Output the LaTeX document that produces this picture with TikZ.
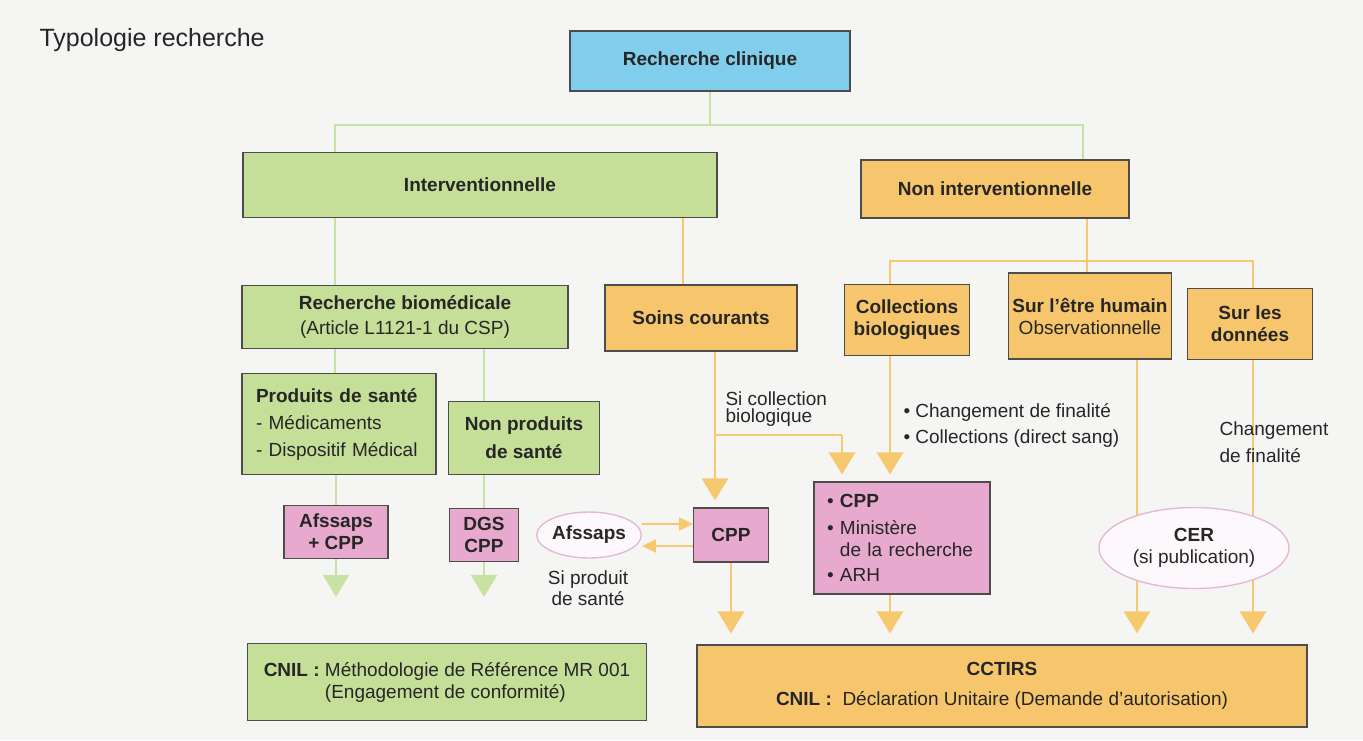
\documentclass[tikz,border=0pt]{standalone}
\usepackage{fontspec}
\setmainfont{Liberation Sans}
\usetikzlibrary{arrows.meta,shapes.geometric,backgrounds}

\definecolor{fond}{RGB}{245,245,244}
\definecolor{bleu}{RGB}{128,206,236}
\definecolor{vert}{RGB}{197,223,152}
\definecolor{vertligne}{RGB}{200,226,163}
\definecolor{orangeclair}{RGB}{247,198,108}
\definecolor{orangeligne}{RGB}{246,201,112}
\definecolor{rose}{RGB}{231,169,206}
\definecolor{roseligne}{RGB}{226,186,214}

\begin{document}
\begin{tikzpicture}[x=1pt, y=-1pt, >={Triangle[width=26pt,length=22pt]},
    every node/.style={font=\fontsize{19}{22}\selectfont, text=black!85},
    boite/.style={draw=black!70, line width=1.1pt, inner sep=4pt, align=center},
    boitebleue/.style={boite, fill=bleu},
    boiteverte/.style={boite, fill=vert},
    boiteorange/.style={boite, fill=orangeclair},
    boiterose/.style={boite, fill=rose},
    bulle/.style={ellipse, draw=roseligne, line width=1.4pt, fill=white!92!rose, inner sep=0pt, align=center},
    lienvert/.style={draw=vertligne, line width=2.2pt},
    lienorange/.style={draw=orangeligne, line width=2.8pt},
    petite/.style={-{Triangle[width=13pt,length=14pt]}, line width=2pt}]
  \useasboundingbox (0,0) rectangle (1363,740);

  % Titre
  \node[anchor=west, font=\fontsize{25}{30}\selectfont] (titre) at (36,40) {Typologie recherche};

  % Recherche clinique et ses deux branches
  \node[boitebleue, minimum width=280pt, minimum height=60pt] (rc) at (710,61) {\textbf{Recherche clinique}};
  \node[boiteverte, minimum width=474pt, minimum height=65pt] (int) at (480,185) {\textbf{Interventionnelle}};
  \node[boiteorange, minimum width=268pt, minimum height=58pt] (nonint) at (995,189) {\textbf{Non interventionnelle}};

  % Types de recherche
  \node[boiteverte, minimum width=326pt, minimum height=63pt] (rb) at (405,317) {\textbf{Recherche biomédicale}\\[3pt](Article L1121-1 du CSP)};
  \node[boiteorange, minimum width=192pt, minimum height=66pt] (sc) at (701,318) {\textbf{Soins courants}};
  \node[boiteorange, minimum width=125pt, minimum height=71pt] (col) at (907,320) {\textbf{Collections}\\\textbf{biologiques}};
  \node[boiteorange, minimum width=162pt, minimum height=86pt] (seh) at (1090,316) {\textbf{Sur l'être humain}\\Observationnelle};
  \node[boiteorange, minimum width=125pt, minimum height=71pt] (sld) at (1250,324) {\textbf{Sur les}\\\textbf{données}};

  % Produits
  \node[boiteverte, text width=166pt, inner xsep=14pt, minimum height=101pt, align=left] (ps) at (339,424) {\textbf{Produits de santé}\\[5pt]- Médicaments\\[5pt]- Dispositif Médical};
  \node[boiteverte, minimum width=151pt, minimum height=73pt] (nps) at (524,438) {\textbf{Non produits}\\[6pt]\textbf{de santé}};

  % Autorités
  \node[boiterose, minimum width=104pt, minimum height=53pt] (afc) at (336,532) {\textbf{Afssaps}\\\textbf{+ CPP}};
  \node[boiterose, minimum width=69pt, minimum height=53pt] (dgs) at (484,535) {\textbf{DGS}\\\textbf{CPP}};
  \node[bulle, minimum width=100pt, minimum height=46pt] (afs) at (589,535) {\textbf{Afssaps}};
  \node[boiterose, minimum width=75pt, minimum height=54pt] (cpp) at (731,535) {\textbf{CPP}};
  \node[boiterose, text width=150pt, inner xsep=13pt, minimum height=112pt, align=left] (cmr) at (902,538)
    {\textbullet\ \textbf{CPP}\\[5pt]\textbullet\ Ministère\\\hphantom{\textbullet\ }de la recherche\\[3pt]\textbullet\ ARH};
  \node[bulle, minimum width=190pt, minimum height=81pt] (cer) at (1194,548) {\textbf{CER}\\(si publication)};

  % Déclarations
  \node[boiteverte, minimum width=399pt, minimum height=77pt, align=left] (cnil) at (447,682)
    {\textbf{CNIL :} Méthodologie de Référence MR 001\\\hphantom{\textbf{CNIL :} }(Engagement de conformité)};
  \node[boiteorange, minimum width=610pt, minimum height=82pt] (cctirs) at (1002,686)
    {\textbf{CCTIRS}\\[8pt]\textbf{CNIL :}\ \ Déclaration Unitaire (Demande d'autorisation)};

  % Conditions
  \node[anchor=west, align=left, font=\fontsize{19}{17}\selectfont] (sicol) at (722,409) {Si collection\\biologique};
  \node[anchor=west, align=left, font=\fontsize{19}{26}\selectfont] (chgt) at (900,425) {\textbullet\ Changement de finalité\\\textbullet\ Collections (direct sang)};
  \node[anchor=west, align=left, font=\fontsize{19}{27}\selectfont] (finalite) at (1216,442) {Changement\\de finalité};
  \node[align=center, font=\fontsize{19}{21}\selectfont] (siprod) at (588,588) {Si produit\\de santé};

  \begin{scope}[on background layer]
    \fill[fond] (0,0) rectangle (1363,740);

    % Recherche clinique vers les branches
    \coordinate (jc) at (710,125);
    \coordinate (jg) at (335,125);
    \coordinate (jd) at (1083,125);
    \draw[lienvert] (rc.south) -- (jc);
    \draw[lienvert] (jg |- int.north) -- (jg) -- (jd) -- (jd |- nonint.north);

    % Branche interventionnelle
    \draw[lienvert] (jg |- int.south) -- (jg |- rb.north);
    \draw[lienvert] (jg |- rb.south) -- (jg |- ps.north);
    \draw[lienvert] (dgs |- rb.south) -- (dgs |- nps.north);
    \draw[lienvert] (afc |- ps.south) -- (afc.north);
    \draw[lienvert] (dgs |- nps.south) -- (dgs.north);
    \coordinate (fa) at (336,597);
    \coordinate (fd) at (484,597);
    \draw[lienvert, ->] (afc.south) -- (fa);
    \draw[lienvert, ->] (dgs.south) -- (fd);

    % Soins courants
    \coordinate (xs) at (683,0);
    \draw[lienorange] (xs |- int.south) -- (xs |- sc.north);
    \coordinate (js) at (715,435);
    \coordinate (jb) at (842,435);
    \draw[lienorange] (js |- sc.south) -- (js) -- (jb);
    \draw[lienorange, ->, shorten >=7pt] (js) -- (js |- cpp.north);
    \draw[lienorange, ->, shorten >=7pt] (jb) -- (jb |- cmr.north);
    \draw[lienorange, petite] ([yshift=11pt]afs.east) -- ([yshift=11pt]cpp.west);
    \draw[lienorange, petite] ([yshift=-11pt]cpp.west) -- ([yshift=-11pt]afs.east);

    % Branche non interventionnelle
    \coordinate (jn) at (1087,261);
    \coordinate (jcol) at (890,261);
    \coordinate (jsld) at (1253,261);
    \draw[lienorange] (jn |- nonint.south) -- (jn) -- (jn |- seh.north);
    \draw[lienorange] (jcol |- col.north) -- (jcol) -- (jsld) -- (jsld |- sld.north);
    \draw[lienorange, ->, shorten >=7pt] (jcol |- col.south) -- (jcol |- cmr.north);

    % Vers CCTIRS
    \coordinate (jh) at (1137,0);
    \draw[lienorange, ->, shorten >=11pt] (cpp.south) -- (cpp |- cctirs.north);
    \draw[lienorange, ->, shorten >=11pt] (jcol |- cmr.south) -- (jcol |- cctirs.north);
    \draw[lienorange, ->, shorten >=11pt] (jh |- seh.south) -- (jh |- cctirs.north);
    \draw[lienorange, ->, shorten >=11pt] (jsld |- sld.south) -- (jsld |- cctirs.north);
  \end{scope}
\end{tikzpicture}
\end{document}
